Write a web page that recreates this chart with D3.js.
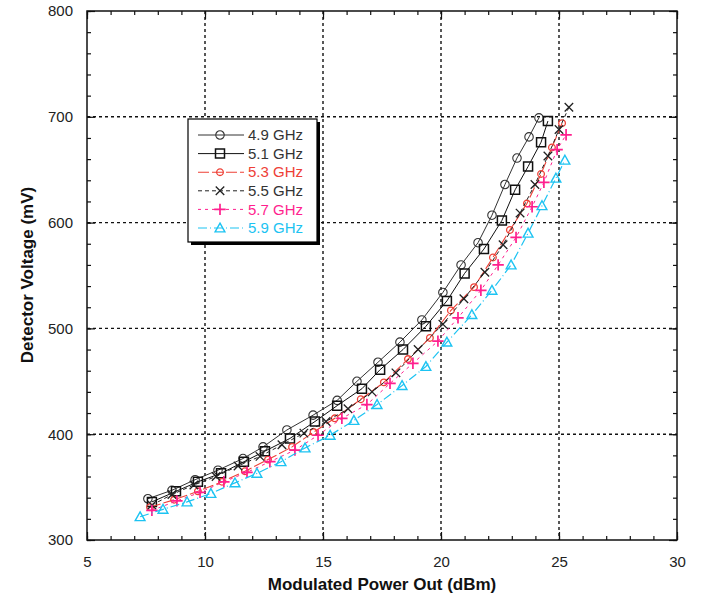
<!DOCTYPE html>
<html>
<head>
<meta charset="utf-8">
<script src="https://cdn.jsdelivr.net/npm/d3@7"></script>
<style>
  html, body { margin: 0; padding: 0; background: #fff; }
  svg { display: block; font-family: "Liberation Sans", Arial, Helvetica, sans-serif; }
</style>
</head>
<body>
<svg id="chart" width="702" height="600"></svg>
<script>
// Detector voltage vs modulated output power, one curve per carrier frequency
const seriesNames = ["4.9 GHz", "5.1 GHz", "5.3 GHz", "5.5 GHz", "5.7 GHz", "5.9 GHz"];

const pout49 = [7.58, 8.6, 9.58, 10.55, 11.61, 12.46, 13.47, 14.58, 15.6, 16.44, 17.33, 18.26, 19.19, 20.08, 20.85, 21.57, 22.16, 22.71, 23.22, 23.73, 24.15];
const vdet49 = [339, 347, 357, 366, 377, 388, 404, 418, 432, 450, 468, 487, 508, 534, 560, 581, 607, 636, 661, 681, 699];

const pout51 = [7.75, 8.77, 9.7, 10.68, 11.65, 12.54, 13.6, 14.66, 15.6, 16.65, 17.42, 18.39, 19.36, 20.25, 21.0, 21.82, 22.58, 23.14, 23.69, 24.24, 24.53];
const vdet51 = [336, 346, 355, 363, 374, 384, 396, 412, 427, 443, 461, 480, 502, 526, 552, 575, 602, 631, 653, 676, 696];

const pout53 = [7.67, 8.69, 9.7, 10.72, 11.69, 12.67, 13.69, 14.6, 15.5, 16.6, 17.58, 18.6, 19.53, 20.42, 21.4, 22.2, 22.92, 23.64, 24.24, 24.7, 25.13];
const vdet53 = [331, 338, 346, 355, 365, 376, 388, 402, 415, 433, 449, 471, 491, 517, 539, 567, 593, 618, 646, 671, 694];

const pout55 = [7.75, 8.6, 9.53, 10.47, 11.4, 12.33, 13.26, 14.19, 15.13, 16.06, 17.08, 18.09, 19.03, 20.08, 20.97, 21.86, 22.63, 23.35, 23.98, 24.53, 25.0, 25.42];
const vdet55 = [333, 343, 352, 360, 370, 379, 390, 401, 412, 424, 440, 458, 480, 504, 528, 553, 579, 609, 636, 663, 688, 709];

const pout57 = [7.75, 8.81, 9.79, 10.8, 11.78, 12.75, 13.81, 14.79, 15.8, 16.86, 17.84, 18.81, 19.87, 20.72, 21.69, 22.42, 23.18, 23.86, 24.36, 24.92, 25.3];
const vdet57 = [328, 337, 345, 355, 364, 374, 385, 399, 415, 428, 448, 467, 488, 510, 536, 560, 586, 615, 638, 669, 683];

const pout59 = [7.25, 8.22, 9.24, 10.25, 11.27, 12.2, 13.22, 14.24, 15.3, 16.31, 17.29, 18.35, 19.36, 20.25, 21.31, 22.16, 22.97, 23.69, 24.28, 24.87, 25.25];
const vdet59 = [322, 329, 336, 344, 354, 363, 374, 387, 399, 413, 428, 446, 464, 487, 513, 536, 560, 590, 616, 642, 659];

const xTicks = [5, 10, 15, 20, 25, 30];
const yTicks = [300, 400, 500, 600, 700, 800];

// ---- custom open marker shapes ----
const openCircle = { draw(c, s) { const r = Math.sqrt(s) / 2; c.moveTo(r, 0); c.arc(0, 0, r, 0, 2 * Math.PI); } };
const openSquare = { draw(c, s) { const r = Math.sqrt(s) / 2; c.rect(-r, -r, 2 * r, 2 * r); } };
const timesMark  = { draw(c, s) { const r = Math.sqrt(s) / 2; c.moveTo(-r, -r); c.lineTo(r, r); c.moveTo(r, -r); c.lineTo(-r, r); } };
const plusMark   = { draw(c, s) { const r = Math.sqrt(s) / 2; c.moveTo(-r, 0); c.lineTo(r, 0); c.moveTo(0, -r); c.lineTo(0, r); } };
const openTri    = { draw(c, s) { const r = Math.sqrt(s) / 2; c.moveTo(0, -r); c.lineTo(r, r * 0.8); c.lineTo(-r, r * 0.8); c.closePath(); } };

const series = [
  { name: seriesNames[0], x: pout49, y: vdet49 },
  { name: seriesNames[1], x: pout51, y: vdet51 },
  { name: seriesNames[2], x: pout53, y: vdet53 },
  { name: seriesNames[3], x: pout55, y: vdet55 },
  { name: seriesNames[4], x: pout57, y: vdet57 },
  { name: seriesNames[5], x: pout59, y: vdet59 }
];
const styles = [
  { color: "#333333", text: "#333333", dash: null,       sym: openCircle, size: 72,  sw: 1.1, lw: 1 },
  { color: "#111111", text: "#333333", dash: null,       sym: openSquare, size: 81,  sw: 1.5, lw: 1 },
  { color: "#ee4036", text: "#ee4036", dash: "11,3",     sym: openCircle, size: 44,  sw: 1.3, lw: 1.1 },
  { color: "#222222", text: "#333333", dash: "4,3",      sym: timesMark,  size: 72,  sw: 1.3, lw: 1 },
  { color: "#ff1f8e", text: "#ff1f8e", dash: "3,4",      sym: plusMark,   size: 130, sw: 1.7, lw: 1 },
  { color: "#1cc3f2", text: "#1cc3f2", dash: "9,3,1,3",  sym: openTri,    size: 96,  sw: 1.4, lw: 1.2 }
];

const svg = d3.select("#chart");
const L = 87, R = 677, T = 11, B = 540;
const x = d3.scaleLinear().domain([5, 30]).range([L, R]);
const y = d3.scaleLinear().domain([300, 800]).range([B, T]);

// ---- grid ----
const grid = svg.append("g").attr("stroke", "#111").attr("stroke-width", 1.4).attr("stroke-dasharray", "3,3");
grid.selectAll("line.gx").data(xTicks.slice(1, -1)).join("line")
  .attr("x1", d => x(d)).attr("x2", d => x(d)).attr("y1", T).attr("y2", B);
grid.selectAll("line.gy").data(yTicks.slice(1, -1)).join("line")
  .attr("y1", d => y(d)).attr("y2", d => y(d)).attr("x1", L).attr("x2", R);

// ---- axes (ticks point inward) ----
const xMinor = d3.range(5, 31, 1);
const yMinor = d3.range(300, 801, 20);
function styleAxis(g) {
  g.select(".domain").remove();
  g.selectAll("line").attr("stroke", "#111").attr("stroke-width", 1.2);
  g.selectAll("text").attr("fill", "#222").style("font-size", "15px").style("font-family", "'Liberation Sans', Arial, sans-serif");
}
svg.append("g").attr("transform", `translate(0,${B})`)
  .call(d3.axisBottom(x).tickValues(xMinor).tickSize(-4).tickFormat("")).call(styleAxis);
svg.append("g").attr("transform", `translate(0,${B})`)
  .call(d3.axisBottom(x).tickValues(xTicks).tickSize(-8).tickPadding(16).tickFormat(d3.format("d"))).call(styleAxis);
svg.append("g").attr("transform", `translate(0,${T})`)
  .call(d3.axisTop(x).tickValues(xMinor).tickSize(-4).tickFormat("")).call(styleAxis);
svg.append("g").attr("transform", `translate(0,${T})`)
  .call(d3.axisTop(x).tickValues(xTicks).tickSize(-8).tickFormat("")).call(styleAxis);
svg.append("g").attr("transform", `translate(${L},0)`)
  .call(d3.axisLeft(y).tickValues(yMinor).tickSize(-4).tickFormat("")).call(styleAxis);
svg.append("g").attr("transform", `translate(${L},0)`)
  .call(d3.axisLeft(y).tickValues(yTicks).tickSize(-8).tickPadding(14).tickFormat(d3.format("d"))).call(styleAxis);
svg.append("g").attr("transform", `translate(${R},0)`)
  .call(d3.axisRight(y).tickValues(yMinor).tickSize(-4).tickFormat("")).call(styleAxis);
svg.append("g").attr("transform", `translate(${R},0)`)
  .call(d3.axisRight(y).tickValues(yTicks).tickSize(-8).tickFormat("")).call(styleAxis);

// frame
svg.append("rect").attr("x", L).attr("y", T).attr("width", R - L).attr("height", B - T)
  .attr("fill", "none").attr("stroke", "#111").attr("stroke-width", 1.5);

// ---- curves ----
const line = d3.line().x(d => x(d[0])).y(d => y(d[1]));
series.forEach((s, i) => {
  const st = styles[i];
  const pts = s.x.map((v, k) => [v, s.y[k]]);
  const g = svg.append("g");
  g.append("path").datum(pts).attr("d", line)
    .attr("fill", "none").attr("stroke", st.color).attr("stroke-width", st.lw)
    .attr("stroke-dasharray", st.dash);
  g.selectAll("path.m").data(pts).join("path").attr("class", "m")
    .attr("transform", d => `translate(${x(d[0])},${y(d[1])})`)
    .attr("d", d3.symbol().type(st.sym).size(st.size))
    .attr("fill", "none").attr("stroke", st.color).attr("stroke-width", st.sw);
});

// ---- legend ----
const lg = svg.append("g");
const lx = 188, ly = 119, lw = 129, lh = 123;
lg.append("rect").attr("x", lx + 3).attr("y", ly + 3).attr("width", lw).attr("height", lh).attr("fill", "#000");
lg.append("rect").attr("x", lx).attr("y", ly).attr("width", lw).attr("height", lh)
  .attr("fill", "#fff").attr("stroke", "#000").attr("stroke-width", 1.2);
seriesNames.forEach((name, i) => {
  const st = styles[i];
  const yy = ly + 16 + i * 18.6;
  lg.append("line").attr("x1", lx + 10).attr("x2", lx + 56).attr("y1", yy).attr("y2", yy)
    .attr("stroke", st.color).attr("stroke-width", st.lw).attr("stroke-dasharray", st.dash);
  lg.append("path").attr("transform", `translate(${lx + 32},${yy})`)
    .attr("d", d3.symbol().type(st.sym).size(st.size))
    .attr("fill", "none").attr("stroke", st.color).attr("stroke-width", st.sw);
  lg.append("text").attr("x", lx + 60).attr("y", yy).attr("dy", "0.35em")
    .attr("fill", st.text).style("font-size", "15px").text(name);
});

// ---- axis titles ----
svg.append("text").attr("x", (L + R) / 2).attr("y", 590).attr("text-anchor", "middle")
  .attr("fill", "#111").style("font-size", "17px").style("font-weight", "bold")
  .text("Modulated Power Out (dBm)");
svg.append("text").attr("transform", "translate(33,275) rotate(-90)").attr("text-anchor", "middle")
  .attr("fill", "#111").style("font-size", "17px").style("font-weight", "bold")
  .text("Detector Voltage (mV)");
</script>
</body>
</html>
